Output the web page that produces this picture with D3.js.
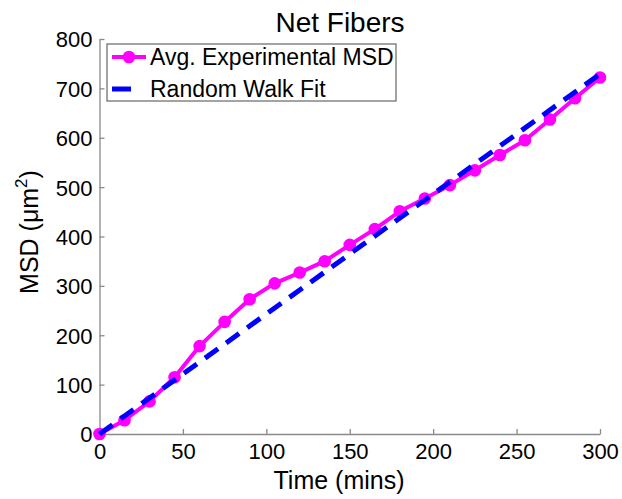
<!DOCTYPE html>
<html>
<head>
<meta charset="utf-8">
<script src="https://cdn.jsdelivr.net/npm/d3@7/dist/d3.min.js"></script>
<style>
  html, body { margin: 0; padding: 0; background: #fff; }
  svg { display: block; font-family: "Liberation Sans", Arial, sans-serif; }
</style>
</head>
<body>
<svg id="chart" width="622" height="499"></svg>
<script>
// ---- data ----
const times = [0, 15, 30, 45, 60, 75, 90, 105, 120, 135, 150, 165, 180, 195, 210, 225, 240, 255, 270, 285, 300];
const msdValues = [0, 28, 66, 115, 178, 227, 273, 305, 327, 350, 383, 415, 451, 477, 504, 534, 565, 595, 637, 680, 722];
const fitTimes = [0, 300];
const fitValues = [0, 729];
const xTicks = [0, 50, 100, 150, 200, 250, 300];
const yTicks = [0, 100, 200, 300, 400, 500, 600, 700, 800];
const seriesNames = ["Avg. Experimental MSD", "Random Walk Fit"];

// ---- layout ----
const svg = d3.select("#chart");
const plotL = 99.5, plotR = 600, plotT = 39, plotB = 434;
const x = d3.scaleLinear().domain([0, 300]).range([plotL, plotR]);
const y = d3.scaleLinear().domain([0, 800]).range([plotB, plotT]);
const axisColor = "#8a8a8a";
const magenta = "#ff00ff", blue = "#0000ff";

// axes
const gx = svg.append("g").attr("transform", `translate(0,${plotB})`)
  .call(d3.axisBottom(x).tickValues(xTicks).tickFormat(d3.format("d")).tickSizeInner(-5).tickSizeOuter(0).tickPadding(9));
const gy = svg.append("g").attr("transform", `translate(${plotL},0)`)
  .call(d3.axisLeft(y).tickValues(yTicks).tickFormat(d3.format("d")).tickSizeInner(-5).tickSizeOuter(0).tickPadding(7));
[gx, gy].forEach(g => {
  g.select(".domain").attr("stroke", axisColor).attr("stroke-width", 1.3);
  g.selectAll(".tick line").attr("stroke", axisColor).attr("stroke-width", 1.3);
  g.selectAll(".tick text").attr("fill", "#000").style("font-size", "22px")
    .style("font-family", "'Liberation Sans', Arial, sans-serif");
});
gy.selectAll(".tick text").attr("dy", "0.36em");

// lines
const line = d3.line().x(d => x(d[0])).y(d => y(d[1]));
const msdPts = times.map((t, i) => [t, msdValues[i]]);
const fitPts = fitTimes.map((t, i) => [t, fitValues[i]]);

svg.append("path").datum(msdPts).attr("d", line)
  .attr("fill", "none").attr("stroke", magenta).attr("stroke-width", 4).attr("stroke-linejoin", "round");
svg.append("g").selectAll("circle").data(msdPts).join("circle")
  .attr("cx", d => x(d[0])).attr("cy", d => y(d[1])).attr("r", 6.3).attr("fill", magenta);
svg.append("path").datum(fitPts).attr("d", line)
  .attr("fill", "none").attr("stroke", blue).attr("stroke-width", 5)
  .attr("stroke-dasharray", "16,10");

// title & labels
svg.append("text").attr("x", 340).attr("y", 32).attr("text-anchor", "middle")
  .style("font-size", "28px").text("Net Fibers");
svg.append("text").attr("x", 339).attr("y", 489).attr("text-anchor", "middle")
  .style("font-size", "25px").text("Time (mins)");
const yl = svg.append("text").attr("transform", "translate(38,232) rotate(-90)")
  .attr("text-anchor", "middle").style("font-size", "25px");
yl.append("tspan").text("MSD (μm");
yl.append("tspan").attr("dy", -11).style("font-size", "17px").text("2");
yl.append("tspan").attr("dy", 11).text(")");

// legend
const lg = svg.append("g");
lg.append("rect").attr("x", 107).attr("y", 44).attr("width", 289).attr("height", 57)
  .attr("fill", "#fff").attr("stroke", "#666").attr("stroke-width", 1.2);
lg.append("line").attr("x1", 112).attr("x2", 146).attr("y1", 57).attr("y2", 57)
  .attr("stroke", magenta).attr("stroke-width", 4);
lg.append("circle").attr("cx", 129).attr("cy", 57).attr("r", 6.3).attr("fill", magenta);
lg.append("line").attr("x1", 112).attr("x2", 131).attr("y1", 89).attr("y2", 89)
  .attr("stroke", blue).attr("stroke-width", 5);
lg.selectAll("text.lt").data(seriesNames).join("text").attr("class", "lt")
  .attr("x", 150).attr("y", (d, i) => 65 + i * 32).style("font-size", "23px").text(d => d);
</script>
</body>
</html>
